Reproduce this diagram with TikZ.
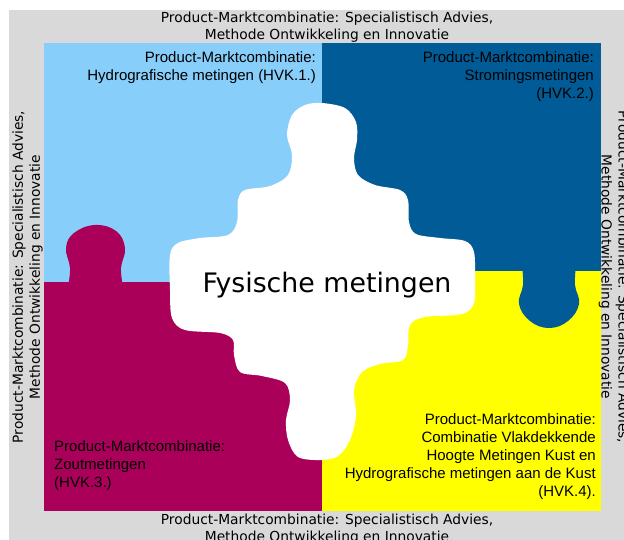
\documentclass[tikz,border=0pt]{standalone}
\usepackage{fontspec}
\setmainfont{Liberation Sans}
\newfontfamily\bordfont{DejaVu Sans}
\definecolor{pmcgray}{RGB}{217,217,217}
\definecolor{pmclightblue}{RGB}{135,206,250}
\definecolor{pmcdarkblue}{RGB}{0,91,150}
\definecolor{pmcmagenta}{RGB}{170,0,90}
\definecolor{pmcyellow}{RGB}{255,255,0}

\begin{document}
\begin{tikzpicture}[x=1pt, y=-1pt,
   border text/.style={font=\bordfont\fontsize{13.8}{17}\selectfont, align=center, inner sep=0pt},
   pmc text/.style={font=\fontsize{15}{18}\selectfont, inner sep=0pt},
   centre text/.style={font=\bordfont\fontsize{26.8}{32}\selectfont, inner sep=0pt}]

\useasboundingbox (0,0) rectangle (624,540);
\clip (0,0) rectangle (624,540);
\fill[pmcgray] (9,10) rectangle (624,540);

% the four quadrants
\fill[pmclightblue] (44,43) rectangle (322,282);
\fill[pmcdarkblue] (322,43) rectangle (601,271);
\fill[pmcmagenta] (44,282) rectangle (322,511);
\fill[pmcyellow] (322,271) rectangle (601,511);

% knobs
\fill[pmcmagenta] plot[smooth, tension=0.7] coordinates {(68,286) (70,268) (66,248) (74,233) (95,225) (116,231) (125,248) (121,268) (123,286)} -- cycle;
\fill[pmcdarkblue] plot[smooth, tension=0.7] coordinates {(522,266) (523,285) (519,304) (530,321) (549,328) (568,321) (579,304) (575,285) (576,266)} -- cycle;

% centre piece
\fill[white] plot[smooth cycle, tension=0.55] coordinates {
   (322,103) (345,108) (356,122) (357,140) (354,158) (358,175) (375,185)
   (400,190) (408,200) (409,222) (416,234) (440,238) (465,241) (474,252)
   (475,280) (474,303) (462,314) (425,317) (410,325) (408,345) (403,360)
   (380,364) (362,372) (354,390) (356,415) (350,440) (338,456) (321,460)
   (298,457) (288,440) (286,420) (290,400) (285,383) (262,376) (240,372)
   (234,355) (233,340) (220,333) (185,330) (172,318) (170,290) (170,255)
   (178,243) (200,238) (228,235) (237,222) (238,200) (245,190) (270,186)
   (288,175) (292,155) (287,135) (292,115) (305,105)};

\node[centre text, anchor=base] (fysisch) at (327,292) {Fysische metingen};

% borders
\node[border text] (boven) at (327,27) {Product-Marktcombinatie: Specialistisch Advies,\\Methode Ontwikkeling en Innovatie};
\node[border text] (onder) at (327,529) {Product-Marktcombinatie: Specialistisch Advies,\\Methode Ontwikkeling en Innovatie};
\node[border text, rotate=90] (links) at (27.5,277) {Product-Marktcombinatie: Specialistisch Advies,\\Methode Ontwikkeling en Innovatie};
\node[border text, rotate=-90] (rechts) at (614,277) {Product-Marktcombinatie: Specialistisch Advies,\\Methode Ontwikkeling en Innovatie};

% product-market combinations
\node[pmc text, align=right, anchor=north east] (hvk1) at (316,51) {Product-Marktcombinatie:\\Hydrografische metingen (HVK.1.)};
\node[pmc text, align=right, anchor=north east] (hvk2) at (594,51) {Product-Marktcombinatie:\\Stromingsmetingen\\(HVK.2.)};
\node[pmc text, align=left, anchor=north west] (hvk3) at (54,440) {Product-Marktcombinatie:\\Zoutmetingen\\(HVK.3.)};
\node[pmc text, align=right, anchor=north east] (hvk4) at (596,413) {Product-Marktcombinatie:\\Combinatie Vlakdekkende\\Hoogte Metingen Kust en\\Hydrografische metingen aan de Kust\\(HVK.4).};

\end{tikzpicture}
\end{document}
